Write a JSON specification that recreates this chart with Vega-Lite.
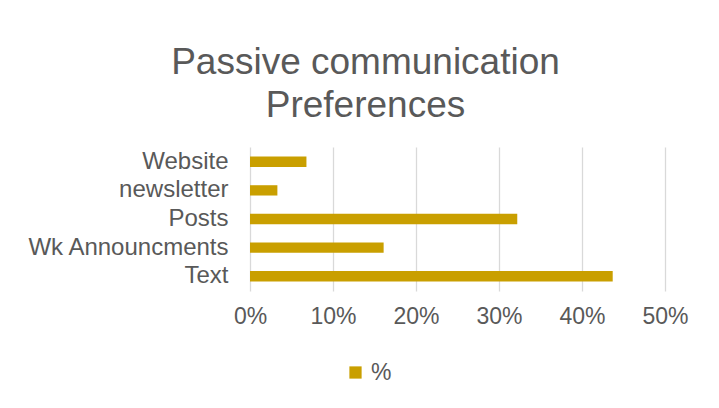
{
  "$schema": "https://vega.github.io/schema/vega-lite/v6.json",
  "width": 415,
  "height": 144,
  "autosize": {"type": "none"},
  "padding": {"left": 250, "top": 147, "right": 54, "bottom": 117},
  "background": "white",
  "title": {
    "text": ["Passive communication", "Preferences"],
    "font": "Liberation Sans",
    "fontSize": 37,
    "fontWeight": "normal",
    "color": "#595959",
    "lineHeight": 43,
    "anchor": "middle",
    "dx": -92,
    "offset": 22
  },
  "data": {
    "values": [
      {"category": "Website", "value": 0.068},
      {"category": "newsletter", "value": 0.033},
      {"category": "Posts", "value": 0.322},
      {"category": "Wk Announcments", "value": 0.161},
      {"category": "Text", "value": 0.437}
    ]
  },
  "mark": {"type": "bar"},
  "encoding": {
    "y": {
      "field": "category",
      "type": "nominal",
      "sort": ["Website", "newsletter", "Posts", "Wk Announcments", "Text"],
      "scale": {"paddingInner": 0.64, "paddingOuter": 0.335},
      "axis": {
        "title": null,
        "domain": false,
        "ticks": false,
        "labelPadding": 22,
        "labelFont": "Liberation Sans",
        "labelFontSize": 24,
        "labelColor": "#595959",
        "labelLimit": 300
      }
    },
    "x": {
      "field": "value",
      "type": "quantitative",
      "scale": {"domain": [0, 0.5], "nice": false},
      "axis": {
        "title": null,
        "values": [0, 0.1, 0.2, 0.3, 0.4, 0.5],
        "format": ".0%",
        "domain": false,
        "ticks": false,
        "grid": true,
        "gridColor": "#D9D9D9",
        "gridWidth": 1.3,
        "labelFlush": false,
        "labelOverlap": false,
        "labelPadding": 14,
        "labelFont": "Liberation Sans",
        "labelFontSize": 23,
        "labelColor": "#595959"
      }
    },
    "color": {
      "datum": "%",
      "type": "nominal",
      "scale": {"range": ["#C99F00"]},
      "legend": {
        "title": null,
        "orient": "none",
        "legendX": 94,
        "legendY": 214,
        "symbolType": "square",
        "symbolSize": 150,
        "symbolStrokeWidth": 0,
        "labelFont": "Liberation Sans",
        "labelFontSize": 23,
        "labelColor": "#595959",
        "labelOffset": 4
      }
    }
  },
  "config": {
    "view": {"stroke": null}
  }
}
